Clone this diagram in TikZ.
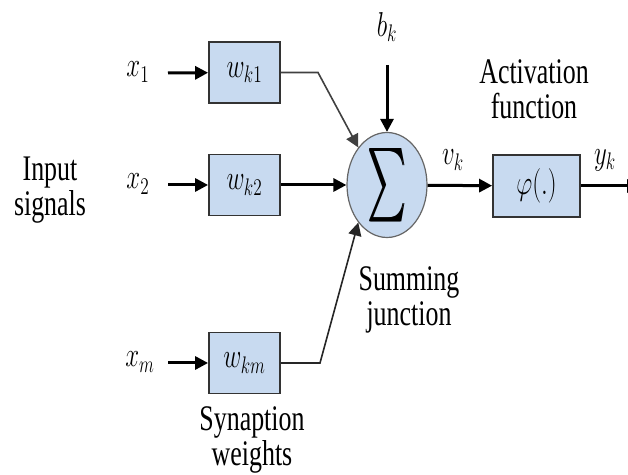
\documentclass[tikz,border=0pt]{standalone}
\usepackage{amsmath}
\usepackage{fontspec}
\setmainfont{Liberation Serif}
\usetikzlibrary{arrows.meta,positioning,shapes.geometric}
\definecolor{boxblue}{RGB}{200,218,240}
\newcommand{\nm}[1]{\scalebox{0.72}[1]{$#1$}}
\newcommand{\nt}[1]{\scalebox{0.72}[1]{#1}}

\begin{document}
\begin{tikzpicture}[x=0.5pt,y=-0.5pt,>={Triangle[length=6.5pt,width=6.5pt]},
  every node/.style={font=\fontsize{18}{17.5}\selectfont,inner sep=0pt},
  wbox/.style={draw=black!80,line width=0.9pt,fill=boxblue,minimum width=35.5pt,minimum height=30.5pt},
  lbl/.style={align=center},
  thickarr/.style={->,line width=1.5pt},
  thinarr/.style={->,line width=0.8pt}]
\useasboundingbox (0,0) rectangle (628,475);
% weights
\node[wbox] (w1) at (244.5,72.5) {\nm{w_{k1}}};
\node[wbox] (w2) at (244.5,185) {\nm{w_{k2}}};
\node[wbox] (wm) at (244.5,363) {\nm{w_{km}}};
% inputs
\node (x1) at (138,72) {\nm{x_1}};
\node (x2) at (138,184) {\nm{x_2}};
\node (xm) at (140,362) {\nm{x_m}};
\coordinate (x1e) at (168,73);
\coordinate (x2e) at (168,185);
\coordinate (xme) at (168,363);
% summing junction
\node[ellipse,draw=black!60,line width=0.6pt,fill=boxblue,minimum width=40pt,minimum height=52.5pt] (sum) at (387,185)
  {\resizebox{19.5pt}{27.5pt}{\rlap{$\sum$}\hspace{0.25pt}$\sum$}};
\node (bk) at (387,27) {\nm{b_k}};
\coordinate (bke) at (387,65);
% activation
\node[wbox,minimum width=43.5pt,minimum height=31pt] (phi) at (536.5,186) {\nm{\varphi(.)}};
\node (vk) at (453,160) {\nm{v_k}};
\node (yk) at (605,160) {\nm{y_k}};
\coordinate (out) at (640,186);
% texts
\node[lbl] (inp) at (50,190) {\nt{Input}\\\nt{signals}};
\node[lbl] (act) at (534,89) {\nt{Activation}\\\nt{function}};
\node[lbl] (summ) at (409,300) {\nt{Summing}\\\nt{junction}};
\node[lbl] (syn) at (252,440) {\nt{Synaption}\\\nt{weights}};
% connectors
\draw[thickarr] (x1e) -- (w1);
\draw[thickarr] (x2e) -- (w2);
\draw[thickarr] (xme) -- (wm);
\draw[thinarr,black!75] (w1.east) -- (318,72.5) -- (sum.north west);
\draw[thickarr] (w2) -- (sum);
\draw[thinarr,black!85] (wm.east) -- (320,363) -- (sum.south west);
\draw[thickarr] (bke) -- (sum);
\draw[thickarr] (sum) -- (phi);
\draw[thickarr] (phi) -- (out);
\end{tikzpicture}
\end{document}
